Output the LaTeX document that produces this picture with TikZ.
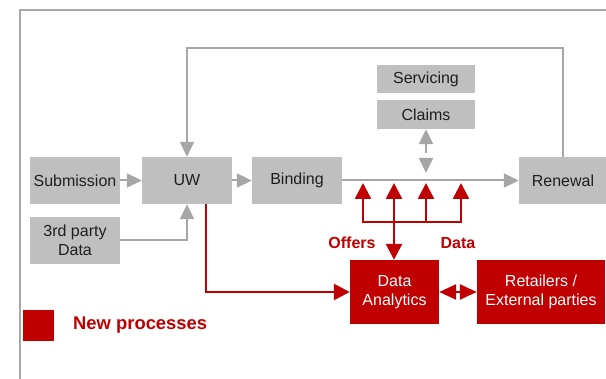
\documentclass[tikz,border=0pt]{standalone}
\usepackage{fontspec}
\setmainfont{Liberation Sans}
\usetikzlibrary{arrows.meta}
\definecolor{boxgray}{HTML}{BFBFBF}
\definecolor{linegray}{HTML}{A6A6A6}
\definecolor{newred}{HTML}{C00000}
\begin{document}
\begin{tikzpicture}[x=1pt,y=-1pt,
  gbox/.style={fill=boxgray, draw=none, inner sep=0pt, align=center,
    font=\fontsize{16}{19}\selectfont, text=black!88},
  rbox/.style={fill=newred, draw=none, inner sep=0pt, align=center,
    font=\fontsize{16}{19}\selectfont, text=white},
  gline/.style={draw=linegray, line width=2pt},
  garrow/.style={gline, -{Triangle[length=15pt,width=14pt]}},
  rline/.style={draw=newred, line width=2.6pt},
  rarrow/.style={rline, -{Triangle[length=16pt,width=16pt]}},
  rdarrow/.style={rline, {Triangle[length=17pt,width=15pt]}-{Triangle[length=17pt,width=15pt]}},
  lbl/.style={text=newred, inner sep=0pt, font=\bfseries\fontsize{16}{19}\selectfont}
]
\useasboundingbox (0,0) rectangle (606,379);
% outer frame
\coordinate (fb) at (20,380);
\coordinate (ftl) at (20,10);
\coordinate (ftr) at (607,10);
\draw[gline] (fb) -- (ftl) -- (ftr);

% nodes
\node[gbox, minimum width=90pt, minimum height=47pt] (Sub) at (75,180.5) {Submission};
\node[gbox, minimum width=90pt, minimum height=47pt] (UW) at (187,180.5) {UW};
\node[gbox, minimum width=90pt, minimum height=47pt] (Bind) at (297,180.5) {Binding};
\node[gbox, minimum width=88pt, minimum height=47pt] (Ren) at (563,180.5) {Renewal};
\node[gbox, minimum width=90pt, minimum height=47pt] (Third) at (75,240.5) {3rd party\\Data};
\node[gbox, minimum width=98pt, minimum height=28pt] (Serv) at (426,79) {Servicing};
\node[gbox, minimum width=98pt, minimum height=29pt] (Claims) at (426,114.5) {Claims};
\node[rbox, minimum width=89pt, minimum height=64pt] (DA) at (394.5,292) {Data\\Analytics};
\node[rbox, minimum width=128pt, minimum height=64pt] (Ret) at (541,292) {Retailers /\\External parties};

% gray connectors
\draw[garrow] (Sub) -- (UW);
\draw[garrow] (UW) -- (Bind);
\draw[garrow] (Bind.east) -- (Ren.west);
\draw[garrow] (Third.east) -| (UW.south);
\coordinate (looptop) at (0,48);
\draw[garrow] (Ren.north) -- (Ren.north |- looptop) -| (UW.north);
\coordinate (cs) at (426,153);
\draw[garrow] (cs) -- (Claims.south);
\coordinate (gd1) at (426,158);
\coordinate (gd2) at (426,173);
\draw[garrow] (gd1) -- (gd2);

% red connectors
\coordinate (j) at (394,222);
\coordinate (t1) at (363,183);
\coordinate (t2) at (394,183);
\coordinate (t3) at (426,183);
\coordinate (t4) at (461,183);
\coordinate (j3) at (426,222);
\draw[rarrow] (j) -| (t1);
\draw[rarrow] (j) -| (t4);
\draw[rarrow] (j) -- (t2);
\draw[rarrow] (j3) -- (t3);
\draw[rarrow] (j) -- (DA.north -| j);
\draw[rarrow] ([xshift=19pt]UW.south) |- (DA.west);
\draw[rdarrow] (DA.east) -- (Ret.west);

% labels
\node[lbl] (offers) at (352,243) {Offers};
\node[lbl] (data) at (458,243) {Data};

% legend
\node[fill=newred, minimum size=31pt, inner sep=0pt] (leg) at (38.5,325.5) {};
\node[lbl, anchor=west, font=\bfseries\fontsize{18.4}{22}\selectfont] (legtxt) at (73,325) {New processes};
\end{tikzpicture}
\end{document}
